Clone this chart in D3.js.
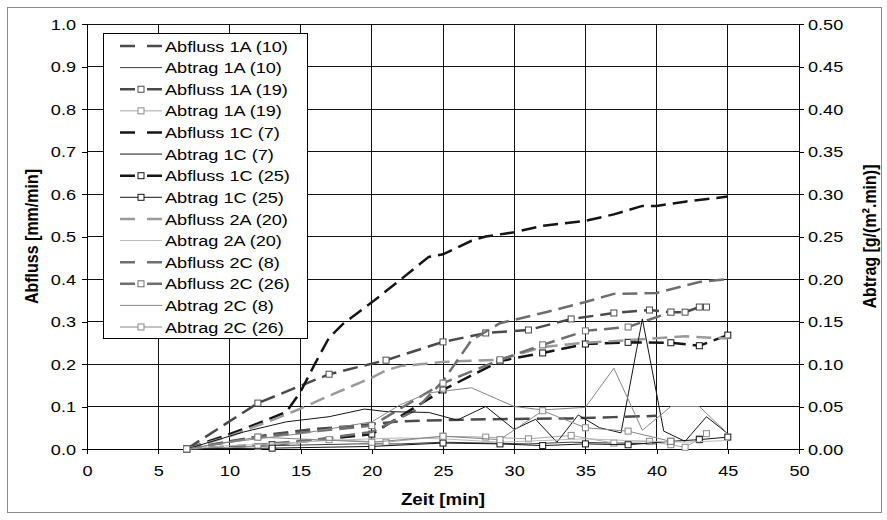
<!DOCTYPE html>
<html>
<head>
<meta charset="utf-8">
<style>
  body { margin: 0; background: #fff; }
  text { font-family: "Liberation Sans", Arial, sans-serif; fill: #000; }
  .grid line { stroke: #111; stroke-width: 1px; shape-rendering: crispEdges; }
  .axis path, .axis line { stroke: #000; stroke-width: 1px; shape-rendering: crispEdges; }
  .axis text { font-size: 15.5px; }
  .title { font-size: 16px; font-weight: bold; }
  .legend text { font-size: 15.5px; }
</style>
</head>
<body>
<div id="chart"></div>
<script src="https://cdn.jsdelivr.net/npm/d3@7/dist/d3.min.js"></script>
<script>
// time [min] / value pairs
var abfluss1A10 = [[7,0],[10,0.018],[13,0.035],[16,0.047],[19,0.055],[22,0.065],[25,0.068],[28,0.07],[31,0.071],[34,0.072],[37,0.075],[40,0.078]];
var abtrag1A10  = [[7,0],[10,0.002],[13,0.004],[16,0.005],[19,0.006],[22,0.006],[25,0.008],[28,0.007],[31,0.006],[34,0.008],[37,0.007],[40,0.006]];
var abfluss1A19 = [[7,0],[12,0.108],[17,0.176],[21,0.209],[25,0.252],[28,0.273],[31,0.28],[34,0.306],[37,0.32],[39.5,0.327],[41,0.322],[42,0.322],[43,0.334],[43.5,0.334]];
var abtrag1A19  = [[7,0],[12,0.003],[17,0.011],[21,0.008],[25,0.015],[28,0.014],[31,0.012],[34,0.016],[37,0.007],[39.5,0.009],[41,0.005],[42,0.002],[43,0.012],[43.5,0.018]];
var abfluss1C7  = [[7,0],[10,0.035],[12,0.06],[14,0.087],[15,0.135],[16,0.2],[17,0.262],[18,0.295],[20,0.345],[22,0.398],[24,0.452],[25,0.458],[27,0.49],[28,0.5],[30,0.51],[32,0.525],[35,0.537],[37,0.552],[39,0.572],[40,0.572],[42,0.582],[45,0.594]];
var abtrag1C7   = [[7,0],[11,0.02],[14,0.032],[17,0.038],[19.5,0.047],[21,0.044],[24,0.043],[26,0.034],[28,0.05],[30,0.023],[31.5,0.035],[33,0.008],[34.5,0.04],[36,0.025],[37.5,0.019],[39,0.153],[40.5,0.021],[42,0.009],[43.5,0.038],[45,0.018]];
var abfluss1C25 = [[7,0],[13,0.01],[20,0.035],[25,0.139],[29,0.207],[32,0.226],[35,0.247],[38,0.251],[41,0.25],[43,0.243],[45,0.268]];
var abtrag1C25  = [[7,0],[13,0.001],[20,0.003],[25,0.007],[29,0.006],[32,0.004],[35,0.006],[38,0.005],[41,0.009],[43,0.011],[45,0.014]];
var abfluss2A20 = [[7,0],[10,0.03],[13,0.068],[15,0.095],[17,0.125],[20,0.168],[21,0.185],[22,0.195],[25,0.205],[29,0.21],[32,0.24],[35,0.25],[38,0.256],[42,0.265],[45,0.26]];
var abtrag2A20  = [[7,0],[10,0.004],[13,0.006],[15,0.008],[17,0.01],[20,0.012],[22,0.013],[25,0.012],[29,0.008],[32,0.01],[35,0.012],[38,0.01],[42,0.008],[45,0.01]];
var abfluss2C8  = [[7,0],[12,0.01],[16,0.022],[20,0.04],[23,0.09],[25,0.16],[27,0.256],[29,0.296],[32,0.32],[35,0.346],[37,0.365],[40,0.367],[43,0.393],[45,0.4]];
var abfluss2C26 = [[7,0],[12,0.028],[20,0.055],[25,0.155],[29,0.21],[32,0.245],[35,0.278],[38,0.287],[41,0.322]];
var abtrag2C8   = [[7,0],[10,0.008],[15,0.018],[20,0.032],[22,0.052],[24,0.066],[27,0.072],[30,0.05],[32,0.046],[35,0.049],[37,0.095],[39,0.022],[41,0.05],[43,0.05],[45,0.018]];
var abtrag2C26  = [[7,0],[12,0.014],[20,0.008],[25,0.015],[29,0.011],[32,0.045],[35,0.025],[38,0.021],[41,0.009]];

var xTicks = [0,5,10,15,20,25,30,35,40,45,50];
var leftTicks = [0,0.1,0.2,0.3,0.4,0.5,0.6,0.7,0.8,0.9,1.0];
var rightTicks = [0,0.05,0.1,0.15,0.2,0.25,0.3,0.35,0.4,0.45,0.5];

var series = [
  {name: "Abfluss 1A (10)", data: abfluss1A10, color: "#4a4a4a", dash: true,  marker: false, axis: "L"},
  {name: "Abtrag 1A (10)",  data: abtrag1A10,  color: "#3c3c3c", dash: false, marker: false, axis: "R"},
  {name: "Abfluss 1A (19)", data: abfluss1A19, color: "#4a4a4a", dash: true,  marker: true,  axis: "L"},
  {name: "Abtrag 1A (19)",  data: abtrag1A19,  color: "#a6a6a6", dash: false, marker: true,  axis: "R"},
  {name: "Abfluss 1C (7)",  data: abfluss1C7,  color: "#151515", dash: true,  marker: false, axis: "L"},
  {name: "Abtrag 1C (7)",   data: abtrag1C7,   color: "#151515", dash: false, marker: false, axis: "R"},
  {name: "Abfluss 1C (25)", data: abfluss1C25, color: "#151515", dash: true,  marker: true,  axis: "L"},
  {name: "Abtrag 1C (25)",  data: abtrag1C25,  color: "#151515", dash: false, marker: true,  axis: "R"},
  {name: "Abfluss 2A (20)", data: abfluss2A20, color: "#9a9a9a", dash: true,  marker: false, axis: "L"},
  {name: "Abtrag 2A (20)",  data: abtrag2A20,  color: "#b8b8b8", dash: false, marker: false, axis: "R"},
  {name: "Abfluss 2C (8)",  data: abfluss2C8,  color: "#6e6e6e", dash: true,  marker: false, axis: "L"},
  {name: "Abfluss 2C (26)", data: abfluss2C26, color: "#6e6e6e", dash: true,  marker: true,  axis: "L"},
  {name: "Abtrag 2C (8)",   data: abtrag2C8,   color: "#858585", dash: false, marker: false, axis: "R"},
  {name: "Abtrag 2C (26)",  data: abtrag2C26,  color: "#858585", dash: false, marker: true,  axis: "R"}
];

var width = 887, height = 520;
var sx = 1.17; // text is a little wider than plain Arial

var svg = d3.select("#chart").append("svg")
    .attr("width", width)
    .attr("height", height);

svg.append("rect")
    .attr("x", 7.5).attr("y", 7.5)
    .attr("width", 874).attr("height", 505)
    .attr("fill", "#fff")
    .attr("stroke", "#8c8c8c");

var x = d3.scaleLinear().domain([0, 50]).range([87, 799]);
var yL = d3.scaleLinear().domain([0, 1]).range([449, 24]);
var yR = d3.scaleLinear().domain([0, 0.5]).range([449, 24]);

// grid
var grid = svg.append("g").attr("class", "grid");
grid.selectAll(".gx").data(xTicks).enter().append("line")
    .attr("x1", function(d){ return x(d); }).attr("x2", function(d){ return x(d); })
    .attr("y1", yL(0)).attr("y2", yL(1));
grid.selectAll(".gy").data(leftTicks).enter().append("line")
    .attr("x1", x(0)).attr("x2", x(50))
    .attr("y1", function(d){ return yL(d); }).attr("y2", function(d){ return yL(d); });

// axes
var axL = svg.append("g").attr("class", "axis")
    .attr("transform", "translate(" + x(0) + ",0)")
    .call(d3.axisLeft(yL).tickValues(leftTicks).tickFormat(d3.format(".1f")).tickSize(5).tickSizeOuter(0));
axL.selectAll("text")
    .attr("x", -11 / sx).attr("dy", "0.35em")
    .attr("transform", "scale(" + sx + ",1)");

var axR = svg.append("g").attr("class", "axis")
    .attr("transform", "translate(" + x(50) + ",0)")
    .call(d3.axisRight(yR).tickValues(rightTicks).tickFormat(d3.format(".2f")).tickSize(5).tickSizeOuter(0));
axR.selectAll("text")
    .attr("x", 9 / sx).attr("dy", "0.35em")
    .attr("transform", "scale(" + sx + ",1)");

var axB = svg.append("g").attr("class", "axis")
    .attr("transform", "translate(0," + yL(0) + ")")
    .call(d3.axisBottom(x).tickValues(xTicks).tickFormat(d3.format("d")).tickSize(5).tickSizeOuter(0));
axB.selectAll(".tick text")
    .attr("x", 0).attr("y", 16).attr("dy", "0.71em")
    .attr("transform", "scale(" + sx + ",1)");
axB.selectAll(".domain").remove();
axL.selectAll(".domain").remove();
axR.selectAll(".domain").remove();

// axis lines
svg.append("line")
    .attr("x1", x(0)).attr("x2", x(50)).attr("y1", yL(0)).attr("y2", yL(0))
    .attr("stroke", "#000").style("shape-rendering", "crispEdges");
svg.append("line")
    .attr("x1", x(0)).attr("x2", x(0)).attr("y1", yL(0)).attr("y2", yL(1))
    .attr("stroke", "#000").style("shape-rendering", "crispEdges");
svg.append("line")
    .attr("x1", x(50)).attr("x2", x(50)).attr("y1", yL(0)).attr("y2", yL(1))
    .attr("stroke", "#000").style("shape-rendering", "crispEdges");

// titles
function stretchedText(g, tx, ty, rot, str, cls) {
  return g.append("text")
      .attr("class", cls)
      .attr("text-anchor", "middle")
      .attr("transform", "translate(" + tx + "," + ty + ") scale(" + sx + ",1)" + (rot ? " rotate(" + rot + ")" : ""))
      .text(str);
}
stretchedText(svg, (x(0) + x(50)) / 2, 505, 0, "Zeit [min]", "title");
stretchedText(svg, 38, (yL(0) + yL(1)) / 2, -90, "Abfluss [mm/min]", "title");
stretchedText(svg, 876, (yL(0) + yL(1)) / 2, -90, "Abtrag [g/(m\u00b2.min)]", "title");

// series: primary axis first, secondary on top
var plot = svg.append("g");
var ordered = series.filter(function(s){ return s.axis === "L"; })
    .concat(series.filter(function(s){ return s.axis === "R"; }));

ordered.forEach(function(s) {
  var ys = s.axis === "L" ? yL : yR;
  var line = d3.line()
      .x(function(d){ return x(d[0]); })
      .y(function(d){ return ys(d[1]); });
  plot.append("path")
      .datum(s.data)
      .attr("fill", "none")
      .attr("stroke", s.color)
      .attr("stroke-width", s.dash ? 2.5 : 1)
      .attr("stroke-dasharray", s.dash ? "15,7" : null)
      .attr("d", line);
  if (s.marker) {
    plot.selectAll(null).data(s.data).enter().append("rect")
        .attr("x", function(d){ return x(d[0]) - 3; })
        .attr("y", function(d){ return ys(d[1]) - 3; })
        .attr("width", 6).attr("height", 6)
        .attr("fill", "#fff")
        .attr("stroke", s.color === "#a6a6a6" ? "#8a8a8a" : s.color)
        .attr("stroke-width", 1);
  }
});

// legend
var lg = svg.append("g").attr("class", "legend");
lg.append("rect")
    .attr("x", 103.5).attr("y", 33.5)
    .attr("width", 204).attr("height", 305)
    .attr("fill", "#fff").attr("stroke", "#000");

var rowY = d3.scalePoint().domain(series.map(function(s){ return s.name; })).range([46, 327]);

series.forEach(function(s) {
  var cy = rowY(s.name);
  lg.append("line")
      .attr("x1", 120).attr("x2", 162)
      .attr("y1", cy).attr("y2", cy)
      .attr("stroke", s.color)
      .attr("stroke-width", s.dash ? 2.5 : 1)
      .attr("stroke-dasharray", s.dash ? "15,12" : null);
  if (s.marker) {
    lg.append("rect")
        .attr("x", 138).attr("y", cy - 3)
        .attr("width", 6).attr("height", 6)
        .attr("fill", "#fff")
        .attr("stroke", s.color === "#a6a6a6" ? "#8a8a8a" : s.color);
  }
  lg.append("text")
      .attr("transform", "translate(165," + cy + ") scale(" + sx + ",1)")
      .attr("dy", "0.36em")
      .text(s.name);
});
</script>
</body>
</html>
